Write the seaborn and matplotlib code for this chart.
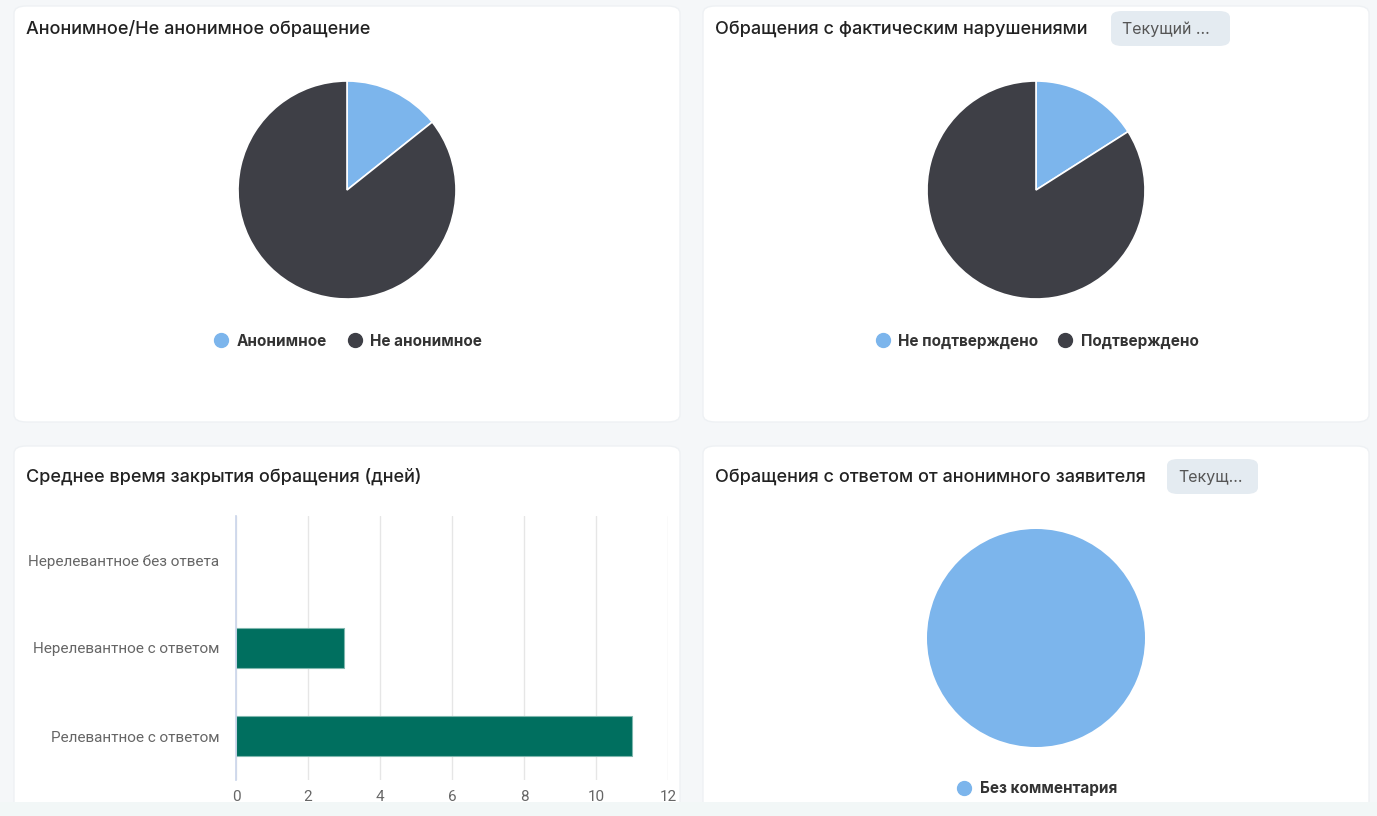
import matplotlib
matplotlib.use('Agg')
import matplotlib.pyplot as plt
import seaborn as sns
import pandas as pd
from matplotlib.patches import FancyBboxPatch, Rectangle
from matplotlib.lines import Line2D

W, H = 1377, 816

# data
anon_labels = ['Анонимное', 'Не анонимное']
anon_values = [2, 12]

fact_labels = ['Не подтверждено', 'Подтверждено']
fact_values = [4, 21]

close_cats = ['Нерелевантное без ответа', 'Нерелевантное с ответом', 'Релевантное с ответом']
close_days = [0, 3, 11]

reply_labels = ['Без комментария']
reply_values = [1]

PIE_COLORS = ['#7cb5ec', '#3e3f46']
BAR_COLOR = '#006f5f'
BG = '#f5f7f9'

sns.set_theme(style='white')
plt.rcParams['font.family'] = ['Inter', 'DejaVu Sans']


def fx(x):
    return x / W


def fy(y):
    return 1 - y / H


def axes_px(fig, x0, y0, x1, y1):
    return fig.add_axes([fx(x0), fy(y1), (x1 - x0) / W, (y1 - y0) / H])


def card(fig, x0, y0, x1, y1):
    p = FancyBboxPatch((fx(x0), fy(y1)), (x1 - x0) / W, (y1 - y0) / H,
                       boxstyle='round,pad=0,rounding_size=0.009',
                       transform=fig.transFigure, facecolor='white',
                       edgecolor='#eef1f4', linewidth=1, zorder=-2)
    fig.patches.append(p)


def button(fig, x0, y0, x1, y1, label):
    p = FancyBboxPatch((fx(x0), fy(y1)), (x1 - x0) / W, (y1 - y0) / H,
                       boxstyle='round,pad=0,rounding_size=0.008',
                       transform=fig.transFigure, facecolor='#e4ebf1',
                       edgecolor='none', zorder=-1)
    fig.patches.append(p)
    fig.text(fx(x0 + 11), fy((y0 + y1) / 2 + 1), label, fontsize=11.5, color='#555555',
             ha='left', va='center')


def pie(fig, cx, cy, r, values, labels, legend_y):
    ax = axes_px(fig, cx - r, cy - r, cx + r, cy + r)
    ax.pie(values, colors=PIE_COLORS[:len(values)], startangle=90, counterclock=False,
           wedgeprops=dict(edgecolor='white', linewidth=1.2 if len(values) > 1 else 0))
    ax.set_xlim(-1, 1)
    ax.set_ylim(-1, 1)
    ax.set_aspect('equal')
    ax.axis('off')
    handles = [Line2D([], [], marker='o', linestyle='', markersize=10,
                      markerfacecolor=c, markeredgecolor=c)
               for c in PIE_COLORS[:len(values)]]
    leg = fig.legend(handles, labels, loc='center', ncol=len(values),
                     bbox_to_anchor=(fx(cx), fy(legend_y)), frameon=False,
                     handletextpad=0.4, columnspacing=1.2, handlelength=1.2,
                     prop=dict(weight='bold', size=11))
    for t in leg.get_texts():
        t.set_color('#333333')


fig = plt.figure(figsize=(W / 100, H / 100), dpi=100)
fig.patch.set_facecolor(BG)

card(fig, 14, 6, 680, 422)
card(fig, 703, 6, 1369, 422)
card(fig, 14, 446, 680, 830)
card(fig, 703, 446, 1369, 830)

title_kw = dict(fontsize=13, color='#222222', ha='left', va='center', weight='medium')
fig.text(fx(26), fy(29), 'Анонимное/Не анонимное обращение', **title_kw)
fig.text(fx(715), fy(29), 'Обращения с фактическим нарушениями', **title_kw)
fig.text(fx(26), fy(477), 'Среднее время закрытия обращения (дней)', **title_kw)
fig.text(fx(715), fy(477), 'Обращения с ответом от анонимного заявителя', **title_kw)

button(fig, 1111, 11, 1230, 46, 'Текущий ...')
button(fig, 1167, 459, 1258, 494, 'Текущ...')

pie(fig, 347, 190, 109, anon_values, anon_labels, 341)
pie(fig, 1036, 190, 109, fact_values, fact_labels, 341)
pie(fig, 1036, 638, 109, reply_values, reply_labels, 789)

# bar chart
ax = axes_px(fig, 236, 516, 668, 780)
df = pd.DataFrame({'cat': close_cats, 'days': close_days})
sns.barplot(data=df, x='days', y='cat', color=BAR_COLOR, saturation=1, width=0.46,
            edgecolor='#7fb7ae', linewidth=0.8, ax=ax)
for bar in ax.patches:
    # empty bars draw nothing
    if bar.get_width() == 0:
        bar.set_visible(False)
ax.set_facecolor('none')
ax.set_xlim(0, 12)
ax.set_ylim(2.5, -0.5)
ax.set_xticks(range(0, 13, 2))
ax.set_xlabel('')
ax.set_ylabel('')
ax.grid(axis='x', color='#e6e6e6', linewidth=1)
ax.grid(axis='y', visible=False)
ax.set_axisbelow(True)
for s in ['top', 'right', 'bottom']:
    ax.spines[s].set_visible(False)
ax.spines['left'].set_color('#ccd6eb')
ax.tick_params(axis='both', length=0, colors='#666666', labelsize=11)
ax.tick_params(axis='y', pad=12)
ax.tick_params(axis='x', pad=7)
for lbl in ax.get_yticklabels() + ax.get_xticklabels():
    lbl.set_family(['Roboto', 'DejaVu Sans'])

# bottom strip of page
fig.patches.append(Rectangle((0, 0), 1, 14 / H, transform=fig.transFigure,
                             facecolor='#f2f7f7', edgecolor='none', zorder=5))

fig.savefig('out.png', dpi=100, facecolor=fig.get_facecolor())
